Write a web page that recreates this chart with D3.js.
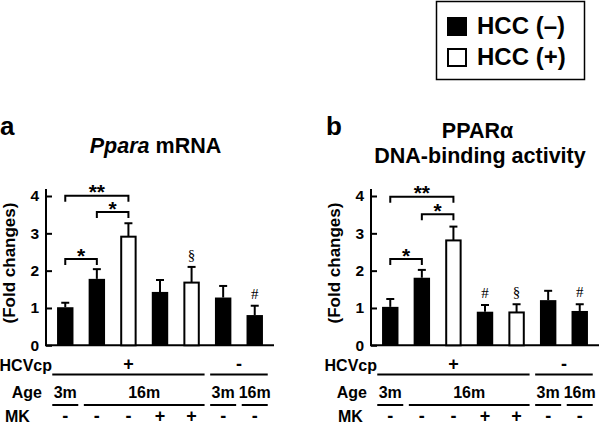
<!DOCTYPE html>
<html><head><meta charset="utf-8">
<script src="https://cdn.jsdelivr.net/npm/d3@7"></script>
<style>body{margin:0;background:#fff}svg{display:block}text{font-family:"Liberation Sans",Arial,sans-serif;font-weight:bold;fill:#000}</style>
</head><body><svg id="c" width="600" height="427"></svg>
<script>
// ---- data ----
const categories = ["3m HCVcp+", "16m HCVcp+", "16m HCVcp+ HCC", "16m HCVcp+ MK", "16m HCVcp+ MK HCC", "3m HCVcp-", "16m HCVcp-"];
const hccPositive = [false, false, true, false, true, false, false];
const mrnaMean = [1.02, 1.78, 2.91, 1.43, 1.68, 1.28, 0.81];
const mrnaSem  = [0.12, 0.26, 0.36, 0.32, 0.42, 0.31, 0.25];
const mrnaMarks = ["", "", "", "", "§", "", "#"];
const bindMean = [1.03, 1.81, 2.81, 0.90, 0.88, 1.21, 0.92];
const bindSem  = [0.21, 0.21, 0.37, 0.18, 0.22, 0.25, 0.18];
const bindMarks = ["", "", "", "#", "§", "", "#"];
const mrnaBrackets = [{from:0,to:1,level:2.31,label:"*"},{from:0,to:2,level:4.01,label:"**"},{from:1,to:2,level:3.57,label:"*"}];
const bindBrackets = [{from:0,to:1,level:2.31,label:"*"},{from:0,to:2,level:3.98,label:"**"},{from:1,to:2,level:3.51,label:"*"}];
const yTicks = [0, 1, 2, 3, 4];
const hcvGroups = [{label:"+",from:0,to:4},{label:"-",from:5,to:6}];
const ageGroups = [{label:"3m",from:0,to:0},{label:"16m",from:1,to:4},{label:"3m",from:5,to:5},{label:"16m",from:6,to:6}];
const mkSigns = ["-", "-", "-", "+", "+", "-", "-"];
const legendItems = [{label:"HCC (–)", hcc:false},{label:"HCC (+)", hcc:true}];

// ---- layout ----
const svg = d3.select("#c");
const y = d3.scaleLinear().domain([0, 4]).range([345.3, 196]);

function panel(opt) {
  const g = svg.append("g");
  const x = d3.scaleBand().domain(categories).range([opt.ax, opt.ax + 228]).paddingInner(0.48).paddingOuter(0.35);
  const cx = i => x(categories[i]) + x.bandwidth() / 2;

  g.append("text").attr("x", opt.letterX).attr("y", 135).attr("font-size", 26).text(opt.letter);
  opt.title(g);

  const yAxis = d3.axisRight(y).tickValues(yTicks).tickSize(6).tickFormat(d3.format("d"));
  const ag = g.append("g").attr("transform", `translate(${opt.ax},0)`).call(yAxis);
  ag.select(".domain").attr("d", `M0,${y(4) - 7}V${y(0)}`).attr("stroke", "#000").attr("stroke-width", 2);
  ag.selectAll(".tick line").attr("stroke", "#000").attr("stroke-width", 2);
  ag.selectAll(".tick text").attr("x", -7).attr("text-anchor", "end").attr("font-size", 15.5)
    .attr("font-family", "Liberation Sans, Arial, sans-serif").attr("font-weight", "bold").attr("fill", "#000");
  g.append("line").attr("x1", opt.ax - 1).attr("x2", opt.ax + 228).attr("y1", y(0)).attr("y2", y(0))
    .attr("stroke", "#000").attr("stroke-width", 2);
  g.append("text").attr("transform", `translate(${opt.ax - 31},263) rotate(-90)`)
    .attr("text-anchor", "middle").attr("font-size", 17).text("(Fold changes)");

  const idx = d3.range(categories.length);
  g.selectAll("line.err").data(idx).join("line").attr("class", "err")
    .attr("x1", i => cx(i)).attr("x2", i => cx(i))
    .attr("y1", i => y(opt.mean[i])).attr("y2", i => y(opt.mean[i] + opt.sem[i]))
    .attr("stroke", "#000").attr("stroke-width", 2);
  g.selectAll("line.cap").data(idx).join("line").attr("class", "cap")
    .attr("x1", i => cx(i) - 4).attr("x2", i => cx(i) + 4)
    .attr("y1", i => y(opt.mean[i] + opt.sem[i])).attr("y2", i => y(opt.mean[i] + opt.sem[i]))
    .attr("stroke", "#000").attr("stroke-width", 2);
  g.selectAll("rect.bar").data(idx).join("rect").attr("class", "bar")
    .attr("x", i => x(categories[i]) + (hccPositive[i] ? 1 : 0))
    .attr("width", i => x.bandwidth() - (hccPositive[i] ? 2 : 0))
    .attr("y", i => y(opt.mean[i]))
    .attr("height", i => y(0) - y(opt.mean[i]))
    .attr("fill", i => hccPositive[i] ? "#fff" : "#000")
    .attr("stroke", "#000").attr("stroke-width", i => hccPositive[i] ? 2 : 0);
  g.selectAll("text.mark").data(idx.filter(i => opt.marks[i])).join("text").attr("class", "mark")
    .attr("x", i => cx(i)).attr("y", i => y(opt.mean[i] + opt.sem[i]) - 7)
    .attr("text-anchor", "middle").attr("font-size", 15)
    .style("font-family", "'Liberation Serif','Times New Roman',serif").style("font-weight", "normal")
    .text(i => opt.marks[i]);
  opt.brackets.forEach(b => {
    const x1 = cx(b.from), x2 = cx(b.to), yy = y(b.level);
    g.append("path").attr("d", `M${x1},${yy + 6}V${yy}H${x2}V${yy + 6}`)
      .attr("fill", "none").attr("stroke", "#000").attr("stroke-width", 2);
    g.append("text").attr("x", (x1 + x2) / 2).attr("y", yy + 3.5).attr("text-anchor", "middle")
      .attr("font-size", 21).text(b.label);
  });

  g.append("text").attr("x", opt.ax + 6).attr("y", 371).attr("text-anchor", "end").attr("font-size", 16).text("HCVcp");
  g.append("text").attr("x", opt.ax - 4).attr("y", 398).attr("text-anchor", "end").attr("font-size", 16).text("Age");
  g.append("text").attr("x", opt.mkX).attr("y", 422).attr("font-size", 16).text("MK");
  hcvGroups.forEach(h => {
    const x1 = cx(h.from) - 13, x2 = cx(h.to) + 13;
    g.append("line").attr("x1", x1).attr("x2", x2).attr("y1", 374.5).attr("y2", 374.5).attr("stroke", "#000").attr("stroke-width", 2);
    g.append("text").attr("x", (x1 + x2) / 2).attr("y", 370).attr("text-anchor", "middle").attr("font-size", 18).text(h.label);
  });
  ageGroups.forEach(a => {
    const x1 = cx(a.from) - 13, x2 = cx(a.to) + 13;
    g.append("line").attr("x1", x1).attr("x2", x2).attr("y1", 405).attr("y2", 405).attr("stroke", "#000").attr("stroke-width", 2);
    g.append("text").attr("x", (x1 + x2) / 2).attr("y", 398).attr("text-anchor", "middle").attr("font-size", 16).text(a.label);
  });
  mkSigns.forEach((s, i) => {
    g.append("text").attr("x", cx(i)).attr("y", 422).attr("text-anchor", "middle").attr("font-size", 18).text(s);
  });
}

panel({
  ax: 46, letter: "a", letterX: 0, mkX: 5,
  mean: mrnaMean, sem: mrnaSem, marks: mrnaMarks, brackets: mrnaBrackets,
  title: g => {
    const t = g.append("text").attr("x", 155.5).attr("y", 153).attr("text-anchor", "middle").attr("font-size", 21.5);
    t.append("tspan").attr("font-style", "italic").text("Ppara");
    t.append("tspan").text(" mRNA");
  }
});
panel({
  ax: 371, letter: "b", letterX: 326, mkX: 338,
  mean: bindMean, sem: bindSem, marks: bindMarks, brackets: bindBrackets,
  title: g => {
    g.append("text").attr("x", 477.5).attr("y", 138).attr("text-anchor", "middle").attr("font-size", 21.5).text("PPARα");
    g.append("text").attr("x", 480).attr("y", 163).attr("text-anchor", "middle").attr("font-size", 21.5).text("DNA-binding activity");
  }
});

const lg = svg.append("g");
lg.append("rect").attr("x", 436.5).attr("y", 1.5).attr("width", 148).attr("height", 78)
  .attr("fill", "#fff").attr("stroke", "#000").attr("stroke-width", 1.5);
legendItems.forEach((d, i) => {
  const yy = 17 + i * 31;
  lg.append("rect").attr("x", d.hcc ? 448 : 447).attr("y", d.hcc ? yy + 1 : yy)
    .attr("width", d.hcc ? 18 : 20).attr("height", d.hcc ? 17 : 19)
    .attr("fill", d.hcc ? "#fff" : "#000").attr("stroke", "#000").attr("stroke-width", d.hcc ? 2 : 0);
  lg.append("text").attr("x", 477).attr("y", yy + 17).attr("font-size", 24).text(d.label);
});
</script></body></html>
